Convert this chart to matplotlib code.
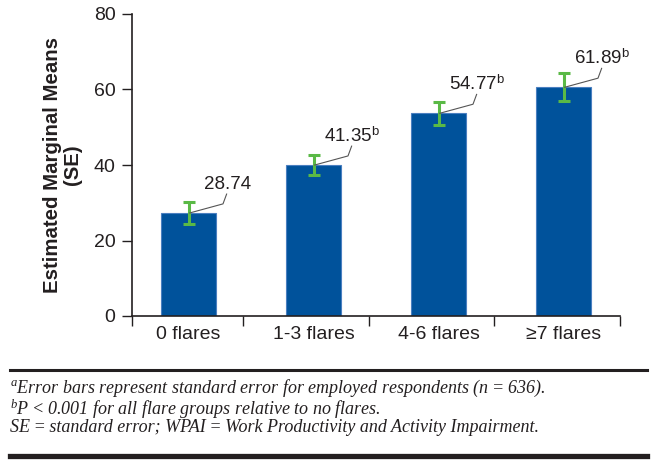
import numpy as np
import matplotlib.pyplot as plt
from matplotlib.lines import Line2D

plt.rcParams['font.family'] = ['Liberation Sans', 'DejaVu Sans']
plt.rcParams['mathtext.fontset'] = 'custom'
plt.rcParams['mathtext.rm'] = 'Liberation Sans'
plt.rcParams['mathtext.it'] = 'Liberation Serif:italic'

# data
categories = ['0 flares', '1-3 flares', '4-6 flares', '\u22657 flares']
bar_heights = [27.3, 40.0, 53.7, 60.6]
std_err = [3.0, 2.6, 3.0, 3.7]
value_labels = ['28.74', r'41.35$^{\mathrm{b}}$', r'54.77$^{\mathrm{b}}$', r'61.89$^{\mathrm{b}}$']
yticks = [0, 20, 40, 60, 80]
footnotes = ['$^{a}$Error bars represent standard error for employed respondents (n\u2009=\u2009636).',
             '$^{b}$P\u2009<\u20090.001 for all flare groups relative to no flares.',
             'SE\u2009=\u2009standard error; WPAI\u2009=\u2009Work Productivity and Activity Impairment.']

text_col = '#231f20'
bar_col = '#00529b'
err_col = '#5ab946'

fig = plt.figure(figsize=(6.55, 4.66), dpi=100)
ax = fig.add_axes([132/655, 1-316/466, (620-132)/655, (316-14)/466])

x = np.arange(len(categories))
ax.bar(x, bar_heights, width=0.44, color=bar_col, edgecolor='#4a7fc0', linewidth=0.8, zorder=2)
ax.errorbar(x, bar_heights, yerr=std_err, fmt='none', ecolor=err_col,
            elinewidth=2.2, capsize=4.3, capthick=2.2, zorder=3)

# labels with leader lines
for xi, h, lab in zip(x, bar_heights, value_labels):
    ax.plot([xi + 0.01, xi + 0.276, xi + 0.305], [h, h + 2.4, h + 5.0],
            color='#555555', lw=0.8, zorder=4)
    ax.text(xi + 0.31, h + 7.6, lab, ha='center', va='center',
            fontsize=13.5, color=text_col)

ax.set_xlim(-0.452, 3.452)
ax.set_ylim(0, 80)
ax.set_yticks(yticks)
ax.tick_params(axis='y', direction='out', length=7.3, width=1, colors=text_col,
               labelsize=14, pad=4.5)
ax.set_xticks([-0.452, 0.436, 1.444, 2.444, 3.452])
ax.set_xticklabels([])
ax.tick_params(axis='x', which='major', direction='out', length=7.3, width=1, color=text_col)
ax.set_xticks(x, minor=True)
ax.set_xticklabels(categories, minor=True)
ax.tick_params(axis='x', which='minor', length=0, pad=7, labelsize=14, labelcolor=text_col)

for s in ['top', 'right']:
    ax.spines[s].set_visible(False)
for s in ['left', 'bottom']:
    ax.spines[s].set_color(text_col)
    ax.spines[s].set_linewidth(1.2)

ax.set_ylabel('Estimated Marginal Means\n(SE)', fontsize=14.7, fontweight='bold',
              color=text_col, linespacing=1.05)
ax.yaxis.set_label_coords((82 - 132)/488, 0.5)

# footnote rules and text
fig.add_artist(Line2D([10/655, 647/655], [1-369.5/466]*2, color=text_col, lw=2.2))
fig.add_artist(Line2D([10/655, 647/655], [1-455.5/466]*2, color=text_col, lw=3.8))
fig.text(10/655, 1-407/466, '\n'.join(footnotes), ha='left', va='center', fontsize=13,
         linespacing=0.9, family=['Liberation Serif', 'DejaVu Serif'], style='italic',
         color=text_col)

fig.savefig('out.png', dpi=100)
